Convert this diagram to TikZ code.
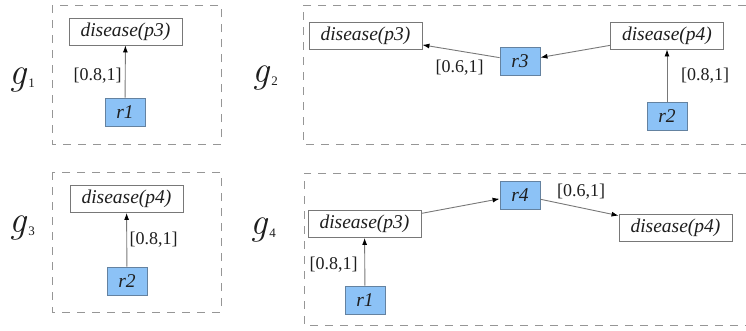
\documentclass[tikz,border=0pt]{standalone}
\usepackage{fontspec}
\setmainfont{Liberation Serif}
\newfontfamily\lmfont{Latin Modern Roman}
\usetikzlibrary{arrows.meta}
\definecolor{rblue}{RGB}{140,194,246}
\definecolor{rborder}{RGB}{100,130,160}
\definecolor{dgray}{RGB}{150,150,150}
\definecolor{lgray}{RGB}{120,120,120}
\definecolor{txt}{RGB}{30,30,30}
\tikzset{
  atom/.style={draw=lgray, line width=0.9pt, fill=white, minimum width=113pt, minimum height=27pt, inner sep=0pt, text=txt, font=\fontsize{19.5}{19.5}\selectfont\itshape},
  rule/.style={draw=rborder, line width=0.9pt, fill=rblue, minimum width=40pt, minimum height=28pt, inner sep=0pt, text=txt, font=\fontsize{19.5}{19.5}\selectfont\itshape},
  lbl/.style={inner sep=0pt, text=txt, font=\fontsize{18}{18}\selectfont},
  frame/.style={draw=dgray, line width=1pt, dash pattern=on 8pt off 7pt},
  conn/.style={draw=lgray, line width=0.9pt, -{Latex[length=7pt,width=5pt,color=black]}},
  glbl/.style={inner sep=0pt, text=txt},
}
\newcommand{\gname}[1]{{\lmfont\itshape\fontsize{38}{38}\selectfont g}\kern2pt\raisebox{-3pt}{\fontsize{13}{13}\selectfont #1}}
\begin{document}
\begin{tikzpicture}[x=1pt,y=-1pt]
\useasboundingbox (0,0) rectangle (746,330);
% frames
\draw[frame] (52,5) rectangle (221,144);
\draw[frame] (746,5) -- (303,5) -- (303,144) -- (746,144);
\draw[frame] (52,172) rectangle (221,312);
\draw[frame] (746,173) -- (304,173) -- (304,325) -- (746,325);
% labels g
\node[glbl] (g1) at (22,80) {\gname{1}};
\node[glbl] (g2) at (265,78) {\gname{2}};
\node[glbl] (g3) at (22,228) {\gname{3}};
\node[glbl] (g4) at (263,230) {\gname{4}};
% g1
\node[atom] (a1) at (125.5,31.5) {disease(p3)};
\node[rule] (r1a) at (125,112) {r1};
\draw[conn] (r1a) -- (a1);
\node[lbl] (l1) at (97.5,76) {[0.8,1]};
% g2
\node[atom] (a2) at (365.5,35.5) {disease(p3)};
\node[atom] (b2) at (667,35.5) {disease(p4)};
\node[rule] (r3b) at (520,61) {r3};
\node[rule] (r2b) at (667,116) {r2};
\draw[conn] (r3b) -- (a2);
\draw[conn] (b2) -- (r3b);
\draw[conn] (r2b) -- (b2);
\node[lbl] (l2) at (459.5,68) {[0.6,1]};
\node[lbl] (l3) at (705,76) {[0.8,1]};
% g3
\node[atom] (b3) at (126.5,199) {disease(p4)};
\node[rule] (r2c) at (127,281) {r2};
\draw[conn] (r2c) -- (b3);
\node[lbl] (l4) at (153.5,240) {[0.8,1]};
% g4
\node[atom] (a4) at (364.5,224) {disease(p3)};
\node[atom] (b4) at (675.5,227.5) {disease(p4)};
\node[rule] (r4d) at (520,195) {r4};
\node[rule] (r1d) at (365,300) {r1};
\draw[conn] (r1d) -- (a4);
\draw[conn] (a4) -- (r4d);
\draw[conn] (r4d) -- (b4);
\node[lbl] (l5) at (333.5,265) {[0.8,1]};
\node[lbl] (l6) at (581,192) {[0.6,1]};
\end{tikzpicture}
\end{document}
